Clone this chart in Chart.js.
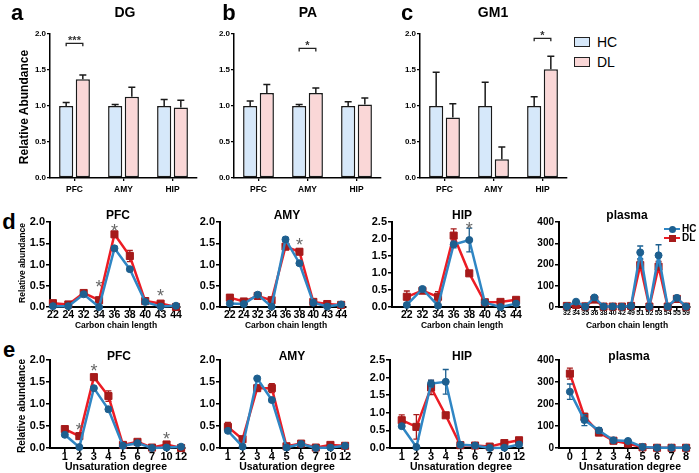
<!DOCTYPE html>
<html>
<head>
<meta charset="utf-8">
<script src="https://cdn.jsdelivr.net/npm/chart.js@4.4.1/dist/chart.umd.min.js"></script>
<style>
    body { margin: 0; background: #fff; width: 699px; height: 473px; position: relative; overflow: hidden;
           font-family: 'Liberation Sans', Arial, Helvetica, sans-serif; }
    canvas { position: absolute; }
    .txt { position: absolute; white-space: nowrap; line-height: 1; color: #000; }
    .box { position: absolute; border: 1.5px solid #222; box-sizing: border-box; }
</style>
</head>
<body>
<script>
// ---- data: bar panels (relative abundance, mean + SEM) ----
const barGroups = ['PFC', 'AMY', 'HIP'];
const dgHC = [1.0, 1.0, 1.0],   dgHCErr = [0.05, 0.02, 0.09];
const dgDL = [1.37, 1.13, 0.98], dgDLErr = [0.06, 0.13, 0.10];
const paHC = [1.0, 1.0, 1.0],   paHCErr = [0.07, 0.02, 0.06];
const paDL = [1.18, 1.18, 1.02], paDLErr = [0.12, 0.07, 0.09];
const gmHC = [1.0, 1.0, 1.0],   gmHCErr = [0.47, 0.33, 0.13];
const gmDL = [0.84, 0.26, 1.51], gmDLErr = [0.19, 0.17, 0.18];

// ---- data: carbon chain length ----
const chainTissue = ['22', '24', '32', '34', '36', '38', '40', '43', '44'];
const chainHip = ['22', '32', '34', '36', '38', '40', '43', '44'];
const chainPlasma = ['32', '34', '35', '36', '38', '40', '42', '49', '51', '52', '53', '54', '55', '59'];

const chainPfcHC = [0.02, 0.02, 0.30, 0.00, 1.38, 0.89, 0.12, 0.01, 0.03];
const chainPfcHCErr = [0.01, 0.01, 0.03, 0.01, 0.05, 0.05, 0.02, 0.01, 0.01];
const chainPfcDL = [0.09, 0.06, 0.33, 0.16, 1.71, 1.20, 0.14, 0.08, 0.00];
const chainPfcDLErr = [0.02, 0.02, 0.03, 0.04, 0.05, 0.13, 0.02, 0.02, 0.01];

const chainAmyHC = [0.08, 0.07, 0.29, 0.01, 1.59, 1.03, 0.10, 0.01, 0.06];
const chainAmyHCErr = [0.02, 0.02, 0.03, 0.01, 0.05, 0.05, 0.02, 0.01, 0.01];
const chainAmyDL = [0.22, 0.13, 0.26, 0.16, 1.42, 1.30, 0.12, 0.07, 0.05];
const chainAmyDLErr = [0.07, 0.03, 0.04, 0.05, 0.07, 0.06, 0.02, 0.02, 0.01];

const chainHipHC = [0.06, 0.53, 0.04, 1.84, 1.97, 0.13, 0.00, 0.10];
const chainHipHCErr = [0.03, 0.05, 0.02, 0.10, 0.35, 0.02, 0.01, 0.03];
const chainHipDL = [0.30, 0.48, 0.30, 2.10, 0.99, 0.14, 0.15, 0.21];
const chainHipDLErr = [0.17, 0.05, 0.15, 0.20, 0.05, 0.03, 0.03, 0.07];

const chainPlasmaHC = [3, 25, 2, 45, 2, 2, 1, 5, 257, 2, 243, 2, 43, 2];
const chainPlasmaHCErr = [1, 4, 1, 8, 1, 1, 1, 2, 30, 1, 50, 1, 5, 1];
const chainPlasmaDL = [5, 10, 3, 35, 2, 2, 2, 5, 197, 2, 190, 2, 38, 2];
const chainPlasmaDLErr = [2, 3, 1, 8, 1, 1, 1, 2, 25, 1, 25, 1, 5, 1];

// ---- data: unsaturation degree ----
const unsatTissue = ['1', '2', '3', '4', '5', '6', '7', '10', '12'];
const unsatPlasma = ['0', '1', '2', '3', '4', '5', '6', '7', '8'];

const unsatPfcHC = [0.30, 0.02, 1.36, 0.88, 0.05, 0.11, 0.00, 0.01, 0.03];
const unsatPfcHCErr = [0.02, 0.01, 0.04, 0.05, 0.02, 0.02, 0.01, 0.01, 0.01];
const unsatPfcDL = [0.43, 0.27, 1.61, 1.18, 0.07, 0.14, 0.01, 0.08, 0.00];
const unsatPfcDLErr = [0.03, 0.07, 0.06, 0.12, 0.02, 0.02, 0.01, 0.02, 0.01];

const unsatAmyHC = [0.39, 0.03, 1.58, 1.09, 0.01, 0.09, 0.00, 0.01, 0.05];
const unsatAmyHCErr = [0.03, 0.01, 0.04, 0.05, 0.01, 0.02, 0.01, 0.01, 0.01];
const unsatAmyDL = [0.48, 0.20, 1.36, 1.36, 0.04, 0.10, 0.01, 0.07, 0.05];
const unsatAmyDLErr = [0.10, 0.05, 0.06, 0.10, 0.02, 0.02, 0.01, 0.02, 0.01];

const unsatHipHC = [0.62, 0.03, 1.83, 1.88, 0.09, 0.07, 0.00, 0.01, 0.10];
const unsatHipHCErr = [0.04, 0.02, 0.10, 0.35, 0.03, 0.02, 0.01, 0.01, 0.03];
const unsatHipDL = [0.79, 0.60, 1.72, 0.93, 0.08, 0.07, 0.04, 0.14, 0.22];
const unsatHipDLErr = [0.15, 0.35, 0.20, 0.05, 0.03, 0.03, 0.02, 0.03, 0.07];

const unsatPlasmaHC = [256, 127, 80, 35, 32, 5, 1, 1, 1];
const unsatPlasmaHCErr = [35, 25, 12, 4, 8, 2, 1, 1, 1];
const unsatPlasmaDL = [338, 142, 70, 33, 20, 3, 1, 1, 1];
const unsatPlasmaDLErr = [25, 15, 8, 4, 4, 1, 1, 1, 1];

// significance marks (category index, value where the mark sits)
const dgSig = [{ group: 0, y: 1.87, text: '***' }];
const paSig = [{ group: 1, y: 1.80, text: '*' }];
const gmSig = [{ group: 2, y: 1.94, text: '*' }];
const chainPfcSig = [{ x: 3, y: 0.56 }, { x: 4, y: 1.89 }, { x: 7, y: 0.35 }];
const chainAmySig = [{ x: 5, y: 1.55 }];
const chainHipSig = [{ x: 4, y: 2.41 }];
const unsatPfcSig = [{ x: 1, y: 0.5 }, { x: 2, y: 1.85 }, { x: 7, y: 0.3 }];

// colours
const HC_FILL = '#d6e8fa';
const DL_FILL = '#fad7d7';
const HC_LINE = '#2f86c4';
const HC_MARK = '#1d5f8f';
const DL_LINE = '#ec1c24';
const DL_MARK = '#a61a1a';
const FONT = "'Liberation Sans', Arial, Helvetica, sans-serif";

Chart.defaults.font.family = FONT;
Chart.defaults.font.weight = 'bold';
Chart.defaults.color = '#000';
Chart.defaults.animation = false;
Chart.defaults.responsive = false;
Chart.defaults.plugins.legend.display = false;
Chart.defaults.plugins.tooltip.enabled = false;

// Error bars (caps at both ends for lines, upward only for bars)
function drawErrors(chart, index) {
    const ds = chart.data.datasets[index];
    if (!ds.errorBars) return;
    const meta = chart.getDatasetMeta(index);
    const yScale = chart.scales.y;
    const ctx = chart.ctx;
    const cap = ds.errorCap || 3;
    ctx.save();
    ctx.strokeStyle = ds.errorColor || '#000';
    ctx.lineWidth = ds.errorWidth || 1.5;
    meta.data.forEach((el, j) => {
        const raw = ds.data[j];
        const v = typeof raw === 'object' ? raw.y : raw;
        const e = ds.errorBars[j];
        const top = yScale.getPixelForValue(v + e);
        const bot = ds.errorUpOnly ? yScale.getPixelForValue(v) : yScale.getPixelForValue(Math.max(v - e, 0));
        ctx.beginPath();
        ctx.moveTo(el.x, bot);
        ctx.lineTo(el.x, top);
        ctx.moveTo(el.x - cap, top);
        ctx.lineTo(el.x + cap, top);
        if (!ds.errorUpOnly) {
            ctx.moveTo(el.x - cap, bot);
            ctx.lineTo(el.x + cap, bot);
        }
        ctx.stroke();
    });
    ctx.restore();
}

const lineErrorPlugin = {
    id: 'lineErrors',
    beforeDatasetDraw(chart, args) { drawErrors(chart, args.index); }
};
const barErrorPlugin = {
    id: 'barErrors',
    afterDatasetDraw(chart, args) { drawErrors(chart, args.index); }
};

// Significance brackets and asterisks
const sigPlugin = {
    id: 'sigMarks',
    afterDatasetsDraw(chart, args, opts) {
        const marks = opts.marks || [];
        const ctx = chart.ctx;
        marks.forEach(m => {
            ctx.save();
            ctx.textAlign = 'center';
            ctx.textBaseline = 'alphabetic';
            const py = chart.scales.y.getPixelForValue(m.y);
            if (m.group !== undefined) {
                const a = chart.getDatasetMeta(0).data[m.group].x;
                const b = chart.getDatasetMeta(1).data[m.group].x;
                ctx.strokeStyle = '#222';
                ctx.lineWidth = 1.3;
                ctx.beginPath();
                ctx.moveTo(a, py + 3);
                ctx.lineTo(a, py);
                ctx.lineTo(b, py);
                ctx.lineTo(b, py + 3);
                ctx.stroke();
                ctx.fillStyle = '#333';
                ctx.font = 'bold 11px ' + FONT;
                ctx.fillText(m.text, (a + b) / 2, py + 1);
            } else {
                ctx.fillStyle = '#666';
                ctx.font = '18px ' + FONT;
                ctx.fillText('*', chart.scales.x.getPixelForValue(m.x), py + 10);
            }
            ctx.restore();
        });
    }
};

function makeCanvas(left, top, width, height) {
    const c = document.createElement('canvas');
    c.width = Math.round(width);
    c.height = Math.round(height);
    c.style.left = left + 'px';
    c.style.top = top + 'px';
    document.body.appendChild(c);
    return c;
}

// Text placed without transforms, except the rotated axis titles
function addText(text, x, y, size, opts = {}) {
    const d = document.createElement('div');
    d.className = 'txt';
    d.textContent = text;
    d.style.fontSize = size + 'px';
    d.style.fontWeight = opts.weight || 'bold';
    if (opts.rotate) {
        d.style.left = x + 'px';
        d.style.top = y + 'px';
        d.style.transform = 'translate(-50%,-50%) rotate(-90deg)';
    } else if (opts.left) {
        d.style.left = x + 'px';
        d.style.top = (y - size / 2) + 'px';
    } else {
        const w = Math.ceil(size * 0.7 * text.length) + 4;
        d.style.width = w + 'px';
        d.style.textAlign = 'center';
        d.style.left = (x - w / 2) + 'px';
        d.style.top = (y - size / 2) + 'px';
    }
    document.body.appendChild(d);
}

// ---- line panel (d, e) ----
function linePanel(p) {
    const LW = 30, PT = 12, PR = 4, BH = 22;
    const canvas = makeCanvas(p.axisX - LW, p.top - PT, LW + p.width + PR, PT + (p.bottom - p.top) + BH);
    const toPoints = vals => vals.map((v, i) => ({ x: i, y: v }));
    const cats = p.cats;
    new Chart(canvas, {
        type: 'line',
        data: {
            datasets: [
                {
                    label: 'HC', data: toPoints(p.hc), errorBars: p.hcErr,
                    borderColor: HC_LINE, borderWidth: 2.5, tension: 0, clip: false,
                    pointStyle: 'circle', pointRadius: 3.5,
                    pointBackgroundColor: HC_MARK, pointBorderColor: HC_MARK, pointBorderWidth: 1,
                    errorColor: HC_MARK, errorCap: 3, errorWidth: 1.3
                },
                {
                    label: 'DL', data: toPoints(p.dl), errorBars: p.dlErr,
                    borderColor: DL_LINE, borderWidth: 2.5, tension: 0, clip: false,
                    pointStyle: 'rect', pointRadius: 5,
                    pointBackgroundColor: DL_MARK, pointBorderColor: DL_MARK, pointBorderWidth: 1,
                    errorColor: DL_MARK, errorCap: 3, errorWidth: 1.3
                }
            ]
        },
        options: {
            layout: { padding: { top: PT, right: PR, left: 0, bottom: 0 } },
            plugins: { sigMarks: { marks: p.sig || [] } },
            scales: {
                x: {
                    type: 'linear', min: p.xMin, max: p.xMax,
                    afterBuildTicks: s => { s.ticks = cats.map((c, i) => ({ value: i })); },
                    grid: { drawOnChartArea: false, tickLength: 4, color: '#000', lineWidth: 1.5 },
                    border: { color: '#000', width: 2 },
                    ticks: { autoSkip: false, maxRotation: 0, font: { size: p.xFont, weight: 'bold' },
                             padding: -2, callback: v => cats[v] },
                    afterFit: s => { s.height = BH; }
                },
                y: {
                    min: 0, max: p.yMax,
                    grid: { drawOnChartArea: false, tickLength: 4, color: '#000', lineWidth: 1.5 },
                    border: { color: '#000', width: 2 },
                    ticks: { stepSize: p.yStep, font: { size: p.yFont, weight: 'bold' }, padding: 1,
                             callback: v => Number(v).toFixed(p.decimals) },
                    afterFit: s => { s.width = LW; }
                }
            }
        },
        plugins: [lineErrorPlugin, sigPlugin]
    });
}

// ---- bar panel (a, b, c) ----
function barPanel(axisX, hc, hcErr, dl, dlErr, sig) {
    const LW = 24, PT = 12, PR = 4, BH = 20;
    const top = 34, bottom = 178, width = 147;
    const canvas = makeCanvas(axisX - LW, top - PT, LW + width + PR, PT + (bottom - top) + BH);
    const common = {
        categoryPercentage: 0.68,
        barPercentage: 0.85,
        borderColor: '#1a1a1a',
        borderWidth: 1.5,
        borderSkipped: false,
        errorUpOnly: true,
        errorColor: '#1a1a1a',
        errorCap: 3.5,
        errorWidth: 1.5
    };
    new Chart(canvas, {
        type: 'bar',
        data: {
            labels: barGroups,
            datasets: [
                { ...common, label: 'HC', data: hc, errorBars: hcErr, backgroundColor: HC_FILL },
                { ...common, label: 'DL', data: dl, errorBars: dlErr, backgroundColor: DL_FILL }
            ]
        },
        options: {
            layout: { padding: { top: PT, right: PR, left: 0, bottom: 0 } },
            plugins: { sigMarks: { marks: sig } },
            scales: {
                x: {
                    grid: { offset: false, drawOnChartArea: false, tickLength: 3, color: '#000', lineWidth: 1.3 },
                    border: { color: '#000', width: 1.5 },
                    ticks: { font: { size: 8.5, weight: 'bold' }, padding: 4 },
                    afterFit: s => { s.height = BH; }
                },
                y: {
                    min: 0, max: 2,
                    grid: { drawOnChartArea: false, tickLength: 3, color: '#000', lineWidth: 1.3 },
                    border: { color: '#000', width: 1.5 },
                    ticks: { stepSize: 0.5, font: { size: 8, weight: 'bold' }, padding: 1,
                             callback: v => v.toFixed(1) },
                    afterFit: s => { s.width = LW; }
                }
            }
        },
        plugins: [barErrorPlugin, sigPlugin]
    });
}

// row d: carbon chain length
const dTop = 222, dBottom = 307;
linePanel({ axisX: 50, width: 132, top: dTop, bottom: dBottom, xMin: -0.19, xMax: 8.26, cats: chainTissue,
            hc: chainPfcHC, hcErr: chainPfcHCErr, dl: chainPfcDL, dlErr: chainPfcDLErr,
            yMax: 2, yStep: 0.5, decimals: 1, xFont: 10.5, yFont: 11, sig: chainPfcSig });
linePanel({ axisX: 220, width: 128, top: dTop, bottom: dBottom, xMin: -0.71, xMax: 8.35, cats: chainTissue,
            hc: chainAmyHC, hcErr: chainAmyHCErr, dl: chainAmyDL, dlErr: chainAmyDLErr,
            yMax: 2, yStep: 0.5, decimals: 1, xFont: 10.5, yFont: 11, sig: chainAmySig });
linePanel({ axisX: 392, width: 130, top: dTop, bottom: dBottom, xMin: -0.95, xMax: 7.25, cats: chainHip,
            hc: chainHipHC, hcErr: chainHipHCErr, dl: chainHipDL, dlErr: chainHipDLErr,
            yMax: 2.5, yStep: 0.5, decimals: 1, xFont: 10.5, yFont: 11, sig: chainHipSig });
linePanel({ axisX: 559, width: 133, top: dTop, bottom: dBottom, xMin: -0.86, xMax: 13.43, cats: chainPlasma,
            hc: chainPlasmaHC, hcErr: chainPlasmaHCErr, dl: chainPlasmaDL, dlErr: chainPlasmaDLErr,
            yMax: 400, yStep: 100, decimals: 0, xFont: 7, yFont: 10 });

// row e: unsaturation degree
const eTop = 360, eBottom = 448;
linePanel({ axisX: 50, width: 137, top: eTop, bottom: eBottom, xMin: -1.02, xMax: 8.27, cats: unsatTissue,
            hc: unsatPfcHC, hcErr: unsatPfcHCErr, dl: unsatPfcDL, dlErr: unsatPfcDLErr,
            yMax: 2, yStep: 0.5, decimals: 1, xFont: 11, yFont: 11, sig: unsatPfcSig });
linePanel({ axisX: 220, width: 130, top: eTop, bottom: eBottom, xMin: -0.54, xMax: 8.2, cats: unsatTissue,
            hc: unsatAmyHC, hcErr: unsatAmyHCErr, dl: unsatAmyDL, dlErr: unsatAmyDLErr,
            yMax: 2, yStep: 0.5, decimals: 1, xFont: 11, yFont: 11 });
linePanel({ axisX: 390, width: 135, top: eTop, bottom: eBottom, xMin: -0.8, xMax: 8.27, cats: unsatTissue,
            hc: unsatHipHC, hcErr: unsatHipHCErr, dl: unsatHipDL, dlErr: unsatHipDLErr,
            yMax: 2.5, yStep: 0.5, decimals: 1, xFont: 11, yFont: 11 });
linePanel({ axisX: 559, width: 133, top: eTop, bottom: eBottom, xMin: -0.75, xMax: 8.27, cats: unsatPlasma,
            hc: unsatPlasmaHC, hcErr: unsatPlasmaHCErr, dl: unsatPlasmaDL, dlErr: unsatPlasmaDLErr,
            yMax: 400, yStep: 100, decimals: 0, xFont: 11, yFont: 10 });

// top row
barPanel(50, dgHC, dgHCErr, dgDL, dgDLErr, dgSig);
barPanel(234, paHC, paHCErr, paDL, paDLErr, paSig);
barPanel(420, gmHC, gmHCErr, gmDL, gmDLErr, gmSig);

// ---- text: panel letters, titles, axis titles ----
addText('a', 17, 13, 22);
addText('b', 229, 13, 22);
addText('c', 407, 13, 22);
addText('d', 9, 222, 22);
addText('e', 9, 350, 22);

addText('DG', 125, 12, 14);
addText('PA', 308, 12, 14);
addText('GM1', 493, 12, 14);
addText('Relative Abundance', 24, 107, 12, { rotate: true });

[['PFC', 118], ['AMY', 287], ['HIP', 462], ['plasma', 627]].forEach(t => addText(t[0], t[1], 215, 12));
[['PFC', 119], ['AMY', 292], ['HIP', 462], ['plasma', 629]].forEach(t => addText(t[0], t[1], 356, 12));

[116, 286, 462, 627].forEach(x => addText('Carbon chain length', x, 325, 8.5));
addText('Unsaturation degree', 116, 466, 10.5);
addText('Usaturation degree', 287, 466, 10.5);
addText('Unsaturation degree', 461, 466, 10.5);
addText('Unsaturation degree', 630, 466, 10.5);
addText('Relative abundance', 22, 263, 8.5, { rotate: true });
addText('Relative abundance', 22, 406, 10, { rotate: true });

// ---- legends ----
function legendBox(y, fill, text) {
    const b = document.createElement('div');
    b.className = 'box';
    b.style.left = '574px';
    b.style.top = (y - 5) + 'px';
    b.style.width = '16px';
    b.style.height = '10px';
    b.style.background = fill;
    document.body.appendChild(b);
    addText(text, 597, y, 14, { weight: 'normal', left: true });
}
legendBox(41.5, HC_FILL, 'HC');
legendBox(62, DL_FILL, 'DL');

function legendLine(y, line, mark, round, text) {
    const l = document.createElement('div');
    l.style.cssText = `position:absolute;left:664px;top:${y - 1.25}px;width:16px;height:2.5px;background:${line}`;
    document.body.appendChild(l);
    const m = document.createElement('div');
    m.style.cssText = `position:absolute;left:${672 - 3.5}px;top:${y - 3.5}px;width:7px;height:7px;background:${mark};` +
        (round ? 'border-radius:50%;' : '');
    document.body.appendChild(m);
    addText(text, 682, y, 10, { left: true });
}
legendLine(229, HC_LINE, HC_MARK, true, 'HC');
legendLine(238, DL_LINE, DL_MARK, false, 'DL');
</script>
</body>
</html>
